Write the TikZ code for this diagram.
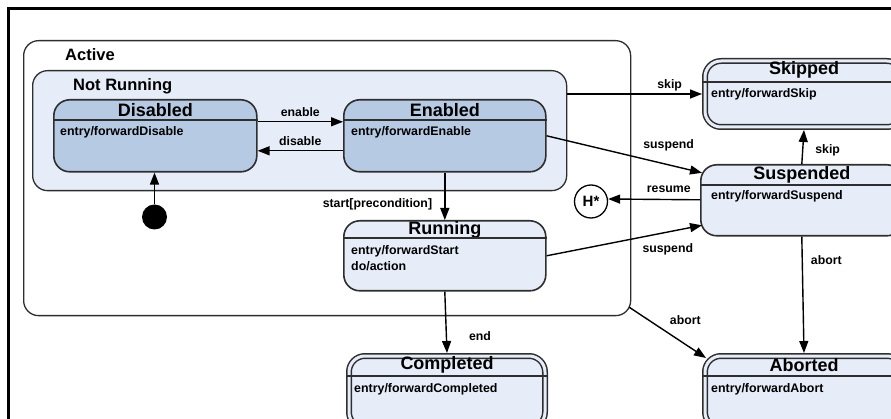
\documentclass[tikz,border=0pt]{standalone}
\usepackage{fontspec}
\setmainfont{Liberation Sans}
\usepackage{tikz}
\usetikzlibrary{arrows.meta}
\definecolor{stateblue}{HTML}{B7CAE3}
\definecolor{statepale}{HTML}{E6EDF8}
\definecolor{stateline}{HTML}{2E2E2E}
\tikzset{
  container/.style={draw=stateline,line width=1.3pt,rounded corners=15pt,
    inner sep=0pt,anchor=north west},
  state/.style={draw=stateline,fill=statepale,line width=1.6pt,
    rounded corners=16pt,inner sep=0pt,anchor=north west},
  idle state/.style={state,fill=stateblue},
  final state/.style={state,double=statepale,double distance=3pt,
    line width=1.5pt,outer sep=3pt},
  divider/.style={draw=stateline,line width=1.4pt},
  group label/.style={anchor=west,inner sep=0pt,
    font=\fontsize{16.5}{18}\selectfont\bfseries},
  state title/.style={inner sep=0pt,font=\fontsize{18}{20}\selectfont\bfseries},
  entry text/.style={anchor=west,inner sep=0pt,
    font=\fontsize{12.4}{14}\selectfont\bfseries},
  trans label/.style={inner sep=0pt,font=\fontsize{12.3}{14}\selectfont\bfseries},
  trans/.style={draw=black,line width=1.4pt,-{Triangle[length=12pt,width=9pt]}},
  initial/.style={circle,fill=black,minimum size=25pt,inner sep=0pt},
  history/.style={circle,draw=black,fill=white,line width=1.3pt,minimum size=33pt,
    inner sep=0pt,font=\fontsize{15}{16}\selectfont\bfseries}
}

\begin{document}
\begin{tikzpicture}[x=1pt,y=-1pt]
  \useasboundingbox (0,0) rectangle (891,419);
  \clip (0,0) rectangle (891,419);
  \draw[line width=2.7pt] (8.7,440) -- (8.7,8.7) -- (910,8.7);

  % composite states
  \node[container,fill=white,minimum width=607pt,minimum height=275pt] (act) at (23,40) {};
  \node[group label] at (65,55) {Active};
  \node[container,fill=statepale,minimum width=534pt,minimum height=120pt] (nrun) at (32,70) {};
  \node[group label] at (73,86) {Not Running};

  % simple states
  \node[idle state,minimum width=203pt,minimum height=72pt] (dis) at (53,99) {};
  \node[state title] at (dis.center |- 0,110) {Disabled};
  \draw[divider] (dis.west |- 0,120) -- (dis.east |- 0,120);
  \node[entry text] at (60,132) {entry/forwardDisable};

  \node[idle state,minimum width=202pt,minimum height=72pt] (enb) at (343,99) {};
  \node[state title] at (enb.center |- 0,110) {Enabled};
  \draw[divider] (enb.west |- 0,120) -- (enb.east |- 0,120);
  \node[entry text] at (351,132) {entry/forwardEnable};

  \node[state,minimum width=202pt,minimum height=70pt] (run) at (343,220) {};
  \node[state title] at (run.center |- 0,230) {Running};
  \draw[divider] (run.west |- 0,238) -- (run.east |- 0,238);
  \node[entry text] at (351,251) {entry/forwardStart};
  \node[entry text] at (351,266) {do/action};

  \node[state,minimum width=202pt,minimum height=71pt] (sus) at (700,164) {};
  \node[state title] at (sus.center |- 0,175) {Suspended};
  \draw[divider] (sus.west |- 0,185) -- (sus.east |- 0,185);
  \node[entry text] at (711,196) {entry/forwardSuspend};

  % final states
  \node[final state,minimum width=198pt,minimum height=66pt] (skp) at (702,58) {};
  \node[state title] at (skp.center |- 0,70) {Skipped};
  \draw[divider] (skp.west |- 0,82) -- (skp.east |- 0,82);
  \node[entry text] at (711,94) {entry/forwardSkip};

  \node[final state,minimum width=196pt,minimum height=72pt] (comp) at (346,353) {};
  \node[state title] at (comp.center |- 0,365) {Completed};
  \draw[divider] (comp.west |- 0,376) -- (comp.east |- 0,376);
  \node[entry text] at (354,389) {entry/forwardCompleted};

  \node[final state,minimum width=198pt,minimum height=72pt] (abt) at (702,353) {};
  \node[state title] at (abt.center |- 0,365) {Aborted};
  \draw[divider] (abt.west |- 0,376) -- (abt.east |- 0,376);
  \node[entry text] at (711,389) {entry/forwardAbort};

  % pseudo states
  \node[initial] (ini) at (154.5,217) {};
  \node[history] (hist) at (591,201.5) {H*};

  % transitions
  \draw[trans] (ini) -- (ini |- dis.south);
  \draw[trans] ([yshift=14pt]dis.east) -- node[trans label,above=4pt] {enable} ([yshift=14pt]enb.west);
  \draw[trans] ([yshift=-15pt]enb.west) -- node[trans label,above=4pt] {disable} ([yshift=-15pt]dis.east);
  \draw[trans] (enb.south) -- node[trans label,pos=0.67,left=12pt] {start[precondition]} (run.north);
  \draw[trans] (run.south) -- node[trans label,pos=0.73,right=22pt] {end} (comp.north);
  \draw[trans] (nrun.east |- skp.west) -- node[trans label,pos=0.76,above=2pt] {skip} (skp.west);
  \draw[trans] (enb.east) -- node[trans label,pos=0.785,above=13pt] {suspend} ([xshift=2pt,yshift=27.5pt]sus.west);
  \draw[trans] (run.east) -- node[trans label,pos=0.78,below=11pt] {suspend} ([xshift=2pt,yshift=-25pt]sus.west);
  \draw[trans] ([yshift=0.5pt]sus.west) -- node[trans label,pos=0.34,above=6pt] {resume} (hist.east |- 0,199);
  \draw[trans] (sus.north) -- node[trans label,pos=0.39,right=12pt] {skip} (skp.south);
  \draw[trans] (sus.south) -- node[trans label,pos=0.2,right=8pt] {abort} (abt.north);
  \draw[trans] ([xshift=-2pt,yshift=9pt]act.south east) -- node[trans label,pos=0.73,above=19pt] {abort} ([xshift=4pt,yshift=-5pt]abt.north west);
\end{tikzpicture}
\end{document}
